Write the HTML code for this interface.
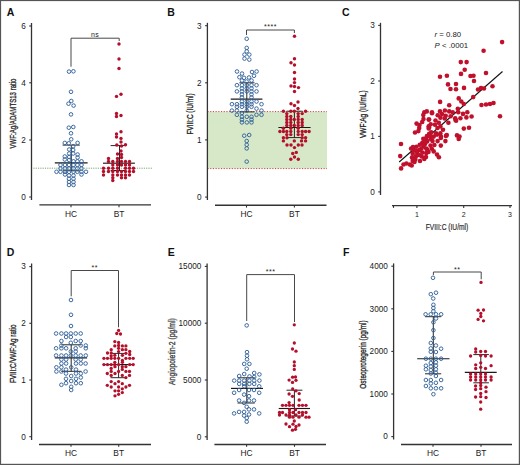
<!DOCTYPE html>
<html><head><meta charset="utf-8"><style>
html,body{margin:0;padding:0;background:#fff;}
body{width:520px;height:465px;overflow:hidden;}
svg{display:block;font-family:"Liberation Sans",sans-serif;}
</style></head><body>
<svg width="520" height="465" viewBox="0 0 520 465">
<rect x="0" y="0" width="520" height="465" fill="#fff"/>
<text x="6.80" y="15.50" font-size="10.5" text-anchor="start" font-weight="bold" fill="#111"  style="">A</text>
<line x1="31.50" y1="23.00" x2="31.50" y2="200.00" stroke="#333" stroke-width="1.3" />
<line x1="29.20" y1="26.00" x2="31.50" y2="26.00" stroke="#333" stroke-width="1.1" />
<text transform="translate(25.70,28.80)" font-size="8.2" text-anchor="end" fill="#1a1a1a">6</text>
<line x1="29.20" y1="82.80" x2="31.50" y2="82.80" stroke="#333" stroke-width="1.1" />
<text transform="translate(25.70,85.60)" font-size="8.2" text-anchor="end" fill="#1a1a1a">4</text>
<line x1="29.20" y1="140.00" x2="31.50" y2="140.00" stroke="#333" stroke-width="1.1" />
<text transform="translate(25.70,142.80)" font-size="8.2" text-anchor="end" fill="#1a1a1a">2</text>
<line x1="29.20" y1="197.00" x2="31.50" y2="197.00" stroke="#333" stroke-width="1.1" />
<text transform="translate(25.70,199.80)" font-size="8.2" text-anchor="end" fill="#1a1a1a">0</text>
<line x1="39.40" y1="204.90" x2="151.00" y2="204.90" stroke="#333" stroke-width="1.4" />
<line x1="71.00" y1="204.90" x2="71.00" y2="207.20" stroke="#333" stroke-width="1.1" />
<text x="71.00" y="217.00" font-size="8.4" text-anchor="middle" font-weight="normal" fill="#222"  style="">HC</text>
<line x1="119.00" y1="204.90" x2="119.00" y2="207.20" stroke="#333" stroke-width="1.1" />
<text x="119.00" y="217.00" font-size="8.4" text-anchor="middle" font-weight="normal" fill="#222"  style="">BT</text>
<text transform="translate(16.40,113.50) rotate(-90)" x="0" y="0" font-size="9.9" font-weight="normal" text-anchor="middle" fill="#2a2a2a" stroke="#2a2a2a" stroke-width="0.35" textLength="70" lengthAdjust="spacingAndGlyphs">VWF:Ag/ADAMTS13 ratio</text>
<polyline points="71,66.7 71,38.2 119.2,38.2 119.2,41" fill="none" stroke="#484848" stroke-width="1.0"/>
<text x="95.10" y="36.50" font-size="7" text-anchor="middle" font-weight="normal" fill="#222"  style="letter-spacing:0.5px">ns</text>
<line x1="33.40" y1="168.20" x2="152.00" y2="168.20" stroke="#6f9a6a" stroke-width="0.9" stroke-dasharray="1.2,1.1"/>
<text x="167.30" y="15.50" font-size="10.5" text-anchor="start" font-weight="bold" fill="#111"  style="">B</text>
<rect x="207.5" y="111.6" width="119.5" height="57" fill="#d6e8c8"/>
<line x1="207.50" y1="111.60" x2="327.00" y2="111.60" stroke="#c42a2a" stroke-width="0.9" stroke-dasharray="1.1,1.6"/>
<line x1="207.50" y1="168.60" x2="327.00" y2="168.60" stroke="#c42a2a" stroke-width="0.9" stroke-dasharray="1.1,1.6"/>
<line x1="207.40" y1="22.80" x2="207.40" y2="200.00" stroke="#333" stroke-width="1.3" />
<line x1="205.10" y1="25.70" x2="207.40" y2="25.70" stroke="#333" stroke-width="1.1" />
<text transform="translate(201.60,28.50)" font-size="8.2" text-anchor="end" fill="#1a1a1a">3</text>
<line x1="205.10" y1="82.80" x2="207.40" y2="82.80" stroke="#333" stroke-width="1.1" />
<text transform="translate(201.60,85.60)" font-size="8.2" text-anchor="end" fill="#1a1a1a">2</text>
<line x1="205.10" y1="139.90" x2="207.40" y2="139.90" stroke="#333" stroke-width="1.1" />
<text transform="translate(201.60,142.70)" font-size="8.2" text-anchor="end" fill="#1a1a1a">1</text>
<line x1="205.10" y1="197.10" x2="207.40" y2="197.10" stroke="#333" stroke-width="1.1" />
<text transform="translate(201.60,199.90)" font-size="8.2" text-anchor="end" fill="#1a1a1a">0</text>
<line x1="215.00" y1="205.30" x2="326.50" y2="205.30" stroke="#333" stroke-width="1.4" />
<line x1="246.50" y1="205.30" x2="246.50" y2="207.60" stroke="#333" stroke-width="1.1" />
<text x="246.50" y="217.00" font-size="8.4" text-anchor="middle" font-weight="normal" fill="#222"  style="">HC</text>
<line x1="294.40" y1="205.30" x2="294.40" y2="207.60" stroke="#333" stroke-width="1.1" />
<text x="294.40" y="217.00" font-size="8.4" text-anchor="middle" font-weight="normal" fill="#222"  style="">BT</text>
<text transform="translate(193.30,113.90) rotate(-90)" x="0" y="0" font-size="9.9" font-weight="normal" text-anchor="middle" fill="#2a2a2a" stroke="#2a2a2a" stroke-width="0.35" textLength="41.2" lengthAdjust="spacingAndGlyphs">FVIII:C (IU/ml)</text>
<polyline points="246.5,35 246.5,30 294.4,30 294.4,33" fill="none" stroke="#484848" stroke-width="1.0"/>
<text x="270.45" y="29.20" font-size="7" text-anchor="middle" font-weight="normal" fill="#222"  style="letter-spacing:0.5px">****</text>
<text x="342.00" y="15.50" font-size="10.5" text-anchor="start" font-weight="bold" fill="#111"  style="">C</text>
<line x1="380.50" y1="22.80" x2="380.50" y2="195.00" stroke="#333" stroke-width="1.3" />
<line x1="378.20" y1="25.40" x2="380.50" y2="25.40" stroke="#333" stroke-width="1.1" />
<text transform="translate(374.70,28.20)" font-size="8.2" text-anchor="end" fill="#1a1a1a">3</text>
<line x1="378.20" y1="81.00" x2="380.50" y2="81.00" stroke="#333" stroke-width="1.1" />
<text transform="translate(374.70,83.80)" font-size="8.2" text-anchor="end" fill="#1a1a1a">2</text>
<line x1="378.20" y1="136.40" x2="380.50" y2="136.40" stroke="#333" stroke-width="1.1" />
<text transform="translate(374.70,139.20)" font-size="8.2" text-anchor="end" fill="#1a1a1a">1</text>
<line x1="378.20" y1="191.90" x2="380.50" y2="191.90" stroke="#333" stroke-width="1.1" />
<text transform="translate(374.70,194.70)" font-size="8.2" text-anchor="end" fill="#1a1a1a">0</text>
<line x1="392.00" y1="205.60" x2="512.00" y2="205.60" stroke="#333" stroke-width="1.4" />
<line x1="393.50" y1="205.60" x2="393.50" y2="207.90" stroke="#333" stroke-width="1.1" />
<line x1="416.90" y1="205.60" x2="416.90" y2="207.90" stroke="#333" stroke-width="1.1" />
<text x="416.90" y="217.00" font-size="7" text-anchor="middle" font-weight="normal" fill="#222"  style="">1</text>
<line x1="463.70" y1="205.60" x2="463.70" y2="207.90" stroke="#333" stroke-width="1.1" />
<text x="463.70" y="217.00" font-size="7" text-anchor="middle" font-weight="normal" fill="#222"  style="">2</text>
<line x1="510.00" y1="205.60" x2="510.00" y2="207.90" stroke="#333" stroke-width="1.1" />
<text x="510.00" y="217.00" font-size="7" text-anchor="middle" font-weight="normal" fill="#222"  style="">3</text>
<text transform="translate(366.30,114.20) rotate(-90)" x="0" y="0" font-size="9.9" font-weight="normal" text-anchor="middle" fill="#2a2a2a" stroke="#2a2a2a" stroke-width="0.35" textLength="47.5" lengthAdjust="spacingAndGlyphs">VWF:Ag (IU/mL)</text>
<text x="447.00" y="229.80" font-size="9.3" text-anchor="middle" font-weight="normal" fill="#2a2a2a" stroke="#2a2a2a" stroke-width="0.2" textLength="42.5" lengthAdjust="spacingAndGlyphs" style="">FVIII:C (IU/ml)</text>
<text x="434.40" y="37.00" font-size="7.8" text-anchor="start" font-weight="normal" fill="#222"  style=""><tspan font-style="italic">r</tspan> = 0.80</text>
<text x="434.60" y="48.00" font-size="7.8" text-anchor="start" font-weight="normal" fill="#222"  style=""><tspan font-style="italic">P</tspan> &lt; .0001</text>
<text x="6.80" y="256.00" font-size="10.5" text-anchor="start" font-weight="bold" fill="#111"  style="">D</text>
<line x1="31.60" y1="263.50" x2="31.60" y2="440.00" stroke="#333" stroke-width="1.3" />
<line x1="29.30" y1="266.60" x2="31.60" y2="266.60" stroke="#333" stroke-width="1.1" />
<text transform="translate(25.80,269.40)" font-size="8.2" text-anchor="end" fill="#1a1a1a">3</text>
<line x1="29.30" y1="323.30" x2="31.60" y2="323.30" stroke="#333" stroke-width="1.1" />
<text transform="translate(25.80,326.10)" font-size="8.2" text-anchor="end" fill="#1a1a1a">2</text>
<line x1="29.30" y1="380.00" x2="31.60" y2="380.00" stroke="#333" stroke-width="1.1" />
<text transform="translate(25.80,382.80)" font-size="8.2" text-anchor="end" fill="#1a1a1a">1</text>
<line x1="29.30" y1="436.70" x2="31.60" y2="436.70" stroke="#333" stroke-width="1.1" />
<text transform="translate(25.80,439.50)" font-size="8.2" text-anchor="end" fill="#1a1a1a">0</text>
<line x1="39.00" y1="444.50" x2="151.00" y2="444.50" stroke="#333" stroke-width="1.4" />
<line x1="71.00" y1="444.50" x2="71.00" y2="446.80" stroke="#333" stroke-width="1.1" />
<text x="71.00" y="456.00" font-size="8.4" text-anchor="middle" font-weight="normal" fill="#222"  style="">HC</text>
<line x1="118.70" y1="444.50" x2="118.70" y2="446.80" stroke="#333" stroke-width="1.1" />
<text x="118.70" y="456.00" font-size="8.4" text-anchor="middle" font-weight="normal" fill="#222"  style="">BT</text>
<text transform="translate(16.40,353.80) rotate(-90)" x="0" y="0" font-size="9.9" font-weight="normal" text-anchor="middle" fill="#2a2a2a" stroke="#2a2a2a" stroke-width="0.35" textLength="58.6" lengthAdjust="spacingAndGlyphs">FVIII:C/VWF:Ag ratio</text>
<polyline points="71.2,296.3 71.2,270.5 118.5,270.5 118.5,327.3" fill="none" stroke="#484848" stroke-width="1.0"/>
<text x="94.85" y="269.70" font-size="7" text-anchor="middle" font-weight="normal" fill="#222"  style="letter-spacing:0.5px">**</text>
<text x="167.70" y="256.20" font-size="10.5" text-anchor="start" font-weight="bold" fill="#111"  style="">E</text>
<line x1="207.10" y1="263.50" x2="207.10" y2="440.00" stroke="#333" stroke-width="1.3" />
<line x1="204.80" y1="266.40" x2="207.10" y2="266.40" stroke="#333" stroke-width="1.1" />
<text transform="translate(201.30,269.20)" font-size="8.2" text-anchor="end" fill="#1a1a1a">15000</text>
<line x1="204.80" y1="323.20" x2="207.10" y2="323.20" stroke="#333" stroke-width="1.1" />
<text transform="translate(201.30,326.00)" font-size="8.2" text-anchor="end" fill="#1a1a1a">10000</text>
<line x1="204.80" y1="380.00" x2="207.10" y2="380.00" stroke="#333" stroke-width="1.1" />
<text transform="translate(201.30,382.80)" font-size="8.2" text-anchor="end" fill="#1a1a1a">5000</text>
<line x1="204.80" y1="436.80" x2="207.10" y2="436.80" stroke="#333" stroke-width="1.1" />
<text transform="translate(201.30,439.60)" font-size="8.2" text-anchor="end" fill="#1a1a1a">0</text>
<line x1="214.40" y1="444.50" x2="326.00" y2="444.50" stroke="#333" stroke-width="1.4" />
<line x1="246.60" y1="444.50" x2="246.60" y2="446.80" stroke="#333" stroke-width="1.1" />
<text x="246.60" y="456.00" font-size="8.4" text-anchor="middle" font-weight="normal" fill="#222"  style="">HC</text>
<line x1="294.50" y1="444.50" x2="294.50" y2="446.80" stroke="#333" stroke-width="1.1" />
<text x="294.50" y="456.00" font-size="8.4" text-anchor="middle" font-weight="normal" fill="#222"  style="">BT</text>
<text transform="translate(174.60,351.60) rotate(-90)" x="0" y="0" font-size="9.9" font-weight="normal" text-anchor="middle" fill="#444" stroke="#444" stroke-width="0.35" textLength="66.7" lengthAdjust="spacingAndGlyphs">Angiopoietin-2 (pg/ml)</text>
<polyline points="246.7,321 246.7,274.6 294.5,274.6 294.5,322" fill="none" stroke="#484848" stroke-width="1.0"/>
<text x="270.60" y="273.60" font-size="7" text-anchor="middle" font-weight="normal" fill="#222"  style="letter-spacing:0.5px">***</text>
<text x="342.90" y="256.40" font-size="10.5" text-anchor="start" font-weight="bold" fill="#111"  style="">F</text>
<line x1="393.60" y1="263.40" x2="393.60" y2="439.50" stroke="#333" stroke-width="1.3" />
<line x1="391.30" y1="266.20" x2="393.60" y2="266.20" stroke="#333" stroke-width="1.1" />
<text transform="translate(387.80,269.00)" font-size="8.2" text-anchor="end" fill="#1a1a1a">4000</text>
<line x1="391.30" y1="308.80" x2="393.60" y2="308.80" stroke="#333" stroke-width="1.1" />
<text transform="translate(387.80,311.60)" font-size="8.2" text-anchor="end" fill="#1a1a1a">3000</text>
<line x1="391.30" y1="351.40" x2="393.60" y2="351.40" stroke="#333" stroke-width="1.1" />
<text transform="translate(387.80,354.20)" font-size="8.2" text-anchor="end" fill="#1a1a1a">2000</text>
<line x1="391.30" y1="394.00" x2="393.60" y2="394.00" stroke="#333" stroke-width="1.1" />
<text transform="translate(387.80,396.80)" font-size="8.2" text-anchor="end" fill="#1a1a1a">1000</text>
<line x1="391.30" y1="436.60" x2="393.60" y2="436.60" stroke="#333" stroke-width="1.1" />
<text transform="translate(387.80,439.40)" font-size="8.2" text-anchor="end" fill="#1a1a1a">0</text>
<line x1="401.00" y1="444.50" x2="512.00" y2="444.50" stroke="#333" stroke-width="1.4" />
<line x1="433.00" y1="444.50" x2="433.00" y2="446.80" stroke="#333" stroke-width="1.1" />
<text x="433.00" y="456.00" font-size="8.4" text-anchor="middle" font-weight="normal" fill="#222"  style="">HC</text>
<line x1="481.00" y1="444.50" x2="481.00" y2="446.80" stroke="#333" stroke-width="1.1" />
<text x="481.00" y="456.00" font-size="8.4" text-anchor="middle" font-weight="normal" fill="#222"  style="">BT</text>
<text transform="translate(365.60,354.50) rotate(-90)" x="0" y="0" font-size="9.9" font-weight="normal" text-anchor="middle" fill="#2a2a2a" stroke="#2a2a2a" stroke-width="0.35" textLength="68.4" lengthAdjust="spacingAndGlyphs">Osteoprotegerin (pg/ml)</text>
<polyline points="433.4,275 433.4,272 481.2,272 481.2,279.3" fill="none" stroke="#484848" stroke-width="1.0"/>
<text x="457.30" y="271.50" font-size="7" text-anchor="middle" font-weight="normal" fill="#222"  style="letter-spacing:0.5px">**</text>
<line x1="71.30" y1="145.10" x2="71.30" y2="170.80" stroke="#1a1a1a" stroke-width="0.95" />
<line x1="54.80" y1="162.90" x2="87.60" y2="162.90" stroke="#1a1a1a" stroke-width="1.15" />
<line x1="62.60" y1="145.10" x2="79.80" y2="145.10" stroke="#1a1a1a" stroke-width="0.95" />
<line x1="62.60" y1="170.80" x2="79.80" y2="170.80" stroke="#1a1a1a" stroke-width="0.95" />
<line x1="119.50" y1="145.60" x2="119.50" y2="170.50" stroke="#1a1a1a" stroke-width="0.95" />
<line x1="103.00" y1="163.20" x2="134.90" y2="163.20" stroke="#1a1a1a" stroke-width="1.15" />
<line x1="110.60" y1="145.60" x2="125.80" y2="145.60" stroke="#1a1a1a" stroke-width="0.95" />
<line x1="110.60" y1="170.50" x2="125.80" y2="170.50" stroke="#1a1a1a" stroke-width="0.95" />
<line x1="246.80" y1="82.80" x2="246.80" y2="111.90" stroke="#1a1a1a" stroke-width="0.95" />
<line x1="230.70" y1="99.10" x2="262.40" y2="99.10" stroke="#1a1a1a" stroke-width="1.15" />
<line x1="239.40" y1="82.80" x2="254.50" y2="82.80" stroke="#1a1a1a" stroke-width="0.95" />
<line x1="239.40" y1="111.90" x2="254.50" y2="111.90" stroke="#1a1a1a" stroke-width="0.95" />
<line x1="294.40" y1="111.20" x2="294.40" y2="137.60" stroke="#1a1a1a" stroke-width="0.95" />
<line x1="278.40" y1="127.50" x2="310.60" y2="127.50" stroke="#1a1a1a" stroke-width="1.15" />
<line x1="286.50" y1="111.20" x2="302.50" y2="111.20" stroke="#1a1a1a" stroke-width="0.95" />
<line x1="286.50" y1="137.60" x2="302.50" y2="137.60" stroke="#1a1a1a" stroke-width="0.95" />
<line x1="71.20" y1="344.80" x2="71.20" y2="371.30" stroke="#1a1a1a" stroke-width="0.95" />
<line x1="54.80" y1="357.80" x2="87.10" y2="357.80" stroke="#1a1a1a" stroke-width="1.15" />
<line x1="61.20" y1="344.80" x2="81.50" y2="344.80" stroke="#1a1a1a" stroke-width="0.95" />
<line x1="61.20" y1="371.30" x2="81.50" y2="371.30" stroke="#1a1a1a" stroke-width="0.95" />
<line x1="118.60" y1="353.40" x2="118.60" y2="377.70" stroke="#1a1a1a" stroke-width="0.95" />
<line x1="103.20" y1="364.60" x2="134.00" y2="364.60" stroke="#1a1a1a" stroke-width="1.15" />
<line x1="110.50" y1="353.40" x2="126.90" y2="353.40" stroke="#1a1a1a" stroke-width="0.95" />
<line x1="110.50" y1="377.70" x2="126.90" y2="377.70" stroke="#1a1a1a" stroke-width="0.95" />
<line x1="246.80" y1="377.80" x2="246.80" y2="403.00" stroke="#1a1a1a" stroke-width="0.95" />
<line x1="231.00" y1="388.40" x2="263.00" y2="388.40" stroke="#1a1a1a" stroke-width="1.15" />
<line x1="237.50" y1="377.80" x2="254.80" y2="377.80" stroke="#1a1a1a" stroke-width="0.95" />
<line x1="237.50" y1="403.00" x2="254.80" y2="403.00" stroke="#1a1a1a" stroke-width="0.95" />
<line x1="294.40" y1="390.20" x2="294.40" y2="416.00" stroke="#1a1a1a" stroke-width="0.95" />
<line x1="278.70" y1="408.50" x2="310.00" y2="408.50" stroke="#1a1a1a" stroke-width="1.15" />
<line x1="286.50" y1="390.20" x2="302.40" y2="390.20" stroke="#1a1a1a" stroke-width="0.95" />
<line x1="286.50" y1="416.00" x2="302.40" y2="416.00" stroke="#1a1a1a" stroke-width="0.95" />
<line x1="433.30" y1="316.70" x2="433.30" y2="373.80" stroke="#1a1a1a" stroke-width="0.95" />
<line x1="417.20" y1="358.70" x2="449.50" y2="358.70" stroke="#1a1a1a" stroke-width="1.15" />
<line x1="425.00" y1="316.70" x2="441.20" y2="316.70" stroke="#1a1a1a" stroke-width="0.95" />
<line x1="425.00" y1="373.80" x2="441.20" y2="373.80" stroke="#1a1a1a" stroke-width="0.95" />
<line x1="480.80" y1="354.60" x2="480.80" y2="382.80" stroke="#1a1a1a" stroke-width="0.95" />
<line x1="464.80" y1="372.30" x2="496.70" y2="372.30" stroke="#1a1a1a" stroke-width="1.15" />
<line x1="473.30" y1="354.60" x2="488.90" y2="354.60" stroke="#1a1a1a" stroke-width="0.95" />
<line x1="473.30" y1="382.80" x2="488.90" y2="382.80" stroke="#1a1a1a" stroke-width="0.95" />
<circle cx="69.00" cy="71.60" r="1.8" fill="none" stroke="#34639a" stroke-width="0.95"/>
<circle cx="73.40" cy="71.30" r="1.8" fill="none" stroke="#34639a" stroke-width="0.95"/>
<circle cx="71.00" cy="91.80" r="1.8" fill="none" stroke="#34639a" stroke-width="0.95"/>
<circle cx="71.30" cy="101.00" r="1.8" fill="none" stroke="#34639a" stroke-width="0.95"/>
<circle cx="68.50" cy="103.70" r="1.8" fill="none" stroke="#34639a" stroke-width="0.95"/>
<circle cx="73.60" cy="105.60" r="1.8" fill="none" stroke="#34639a" stroke-width="0.95"/>
<circle cx="71.00" cy="114.40" r="1.8" fill="none" stroke="#34639a" stroke-width="0.95"/>
<circle cx="68.80" cy="127.70" r="1.8" fill="none" stroke="#34639a" stroke-width="0.95"/>
<circle cx="73.30" cy="127.00" r="1.8" fill="none" stroke="#34639a" stroke-width="0.95"/>
<circle cx="71.00" cy="133.30" r="1.8" fill="none" stroke="#34639a" stroke-width="0.95"/>
<circle cx="71.20" cy="139.30" r="1.8" fill="none" stroke="#34639a" stroke-width="0.95"/>
<circle cx="64.80" cy="142.90" r="1.8" fill="none" stroke="#34639a" stroke-width="0.95"/>
<circle cx="68.80" cy="143.30" r="1.8" fill="none" stroke="#34639a" stroke-width="0.95"/>
<circle cx="77.60" cy="142.90" r="1.8" fill="none" stroke="#34639a" stroke-width="0.95"/>
<circle cx="73.20" cy="146.20" r="1.8" fill="none" stroke="#34639a" stroke-width="0.95"/>
<circle cx="69.20" cy="149.50" r="1.8" fill="none" stroke="#34639a" stroke-width="0.95"/>
<circle cx="73.20" cy="150.00" r="1.8" fill="none" stroke="#34639a" stroke-width="0.95"/>
<circle cx="69.20" cy="153.50" r="1.8" fill="none" stroke="#34639a" stroke-width="0.95"/>
<circle cx="73.20" cy="153.50" r="1.8" fill="none" stroke="#34639a" stroke-width="0.95"/>
<circle cx="77.60" cy="154.50" r="1.8" fill="none" stroke="#34639a" stroke-width="0.95"/>
<circle cx="64.80" cy="156.50" r="1.8" fill="none" stroke="#34639a" stroke-width="0.95"/>
<circle cx="69.20" cy="157.00" r="1.8" fill="none" stroke="#34639a" stroke-width="0.95"/>
<circle cx="77.60" cy="157.50" r="1.8" fill="none" stroke="#34639a" stroke-width="0.95"/>
<circle cx="64.80" cy="159.50" r="1.8" fill="none" stroke="#34639a" stroke-width="0.95"/>
<circle cx="69.20" cy="160.00" r="1.8" fill="none" stroke="#34639a" stroke-width="0.95"/>
<circle cx="73.50" cy="161.30" r="1.8" fill="none" stroke="#34639a" stroke-width="0.95"/>
<circle cx="77.40" cy="161.30" r="1.8" fill="none" stroke="#34639a" stroke-width="0.95"/>
<circle cx="81.50" cy="161.30" r="1.8" fill="none" stroke="#34639a" stroke-width="0.95"/>
<circle cx="60.50" cy="165.00" r="1.8" fill="none" stroke="#34639a" stroke-width="0.95"/>
<circle cx="65.00" cy="165.00" r="1.8" fill="none" stroke="#34639a" stroke-width="0.95"/>
<circle cx="69.00" cy="165.00" r="1.8" fill="none" stroke="#34639a" stroke-width="0.95"/>
<circle cx="73.50" cy="165.00" r="1.8" fill="none" stroke="#34639a" stroke-width="0.95"/>
<circle cx="77.40" cy="165.00" r="1.8" fill="none" stroke="#34639a" stroke-width="0.95"/>
<circle cx="81.50" cy="165.00" r="1.8" fill="none" stroke="#34639a" stroke-width="0.95"/>
<circle cx="60.50" cy="168.50" r="1.8" fill="none" stroke="#34639a" stroke-width="0.95"/>
<circle cx="65.00" cy="168.50" r="1.8" fill="none" stroke="#34639a" stroke-width="0.95"/>
<circle cx="69.00" cy="168.50" r="1.8" fill="none" stroke="#34639a" stroke-width="0.95"/>
<circle cx="73.50" cy="168.50" r="1.8" fill="none" stroke="#34639a" stroke-width="0.95"/>
<circle cx="77.40" cy="168.50" r="1.8" fill="none" stroke="#34639a" stroke-width="0.95"/>
<circle cx="81.50" cy="168.50" r="1.8" fill="none" stroke="#34639a" stroke-width="0.95"/>
<circle cx="56.50" cy="171.80" r="1.8" fill="none" stroke="#34639a" stroke-width="0.95"/>
<circle cx="60.50" cy="171.80" r="1.8" fill="none" stroke="#34639a" stroke-width="0.95"/>
<circle cx="65.00" cy="171.80" r="1.8" fill="none" stroke="#34639a" stroke-width="0.95"/>
<circle cx="69.00" cy="171.80" r="1.8" fill="none" stroke="#34639a" stroke-width="0.95"/>
<circle cx="73.50" cy="171.80" r="1.8" fill="none" stroke="#34639a" stroke-width="0.95"/>
<circle cx="77.40" cy="171.80" r="1.8" fill="none" stroke="#34639a" stroke-width="0.95"/>
<circle cx="81.50" cy="171.80" r="1.8" fill="none" stroke="#34639a" stroke-width="0.95"/>
<circle cx="86.00" cy="171.80" r="1.8" fill="none" stroke="#34639a" stroke-width="0.95"/>
<circle cx="65.00" cy="174.50" r="1.8" fill="none" stroke="#34639a" stroke-width="0.95"/>
<circle cx="81.50" cy="174.50" r="1.8" fill="none" stroke="#34639a" stroke-width="0.95"/>
<circle cx="69.00" cy="175.50" r="1.8" fill="none" stroke="#34639a" stroke-width="0.95"/>
<circle cx="73.50" cy="175.50" r="1.8" fill="none" stroke="#34639a" stroke-width="0.95"/>
<circle cx="69.00" cy="178.80" r="1.8" fill="none" stroke="#34639a" stroke-width="0.95"/>
<circle cx="73.50" cy="178.80" r="1.8" fill="none" stroke="#34639a" stroke-width="0.95"/>
<circle cx="69.00" cy="182.00" r="1.8" fill="none" stroke="#34639a" stroke-width="0.95"/>
<circle cx="73.50" cy="182.00" r="1.8" fill="none" stroke="#34639a" stroke-width="0.95"/>
<circle cx="69.00" cy="185.00" r="1.8" fill="none" stroke="#34639a" stroke-width="0.95"/>
<circle cx="73.50" cy="185.00" r="1.8" fill="none" stroke="#34639a" stroke-width="0.95"/>
<circle cx="246.70" cy="38.80" r="1.8" fill="none" stroke="#34639a" stroke-width="0.95"/>
<circle cx="246.70" cy="47.90" r="1.8" fill="none" stroke="#34639a" stroke-width="0.95"/>
<circle cx="246.70" cy="51.30" r="1.8" fill="none" stroke="#34639a" stroke-width="0.95"/>
<circle cx="244.50" cy="54.60" r="1.8" fill="none" stroke="#34639a" stroke-width="0.95"/>
<circle cx="249.30" cy="54.60" r="1.8" fill="none" stroke="#34639a" stroke-width="0.95"/>
<circle cx="244.50" cy="58.60" r="1.8" fill="none" stroke="#34639a" stroke-width="0.95"/>
<circle cx="249.30" cy="59.60" r="1.8" fill="none" stroke="#34639a" stroke-width="0.95"/>
<circle cx="237.00" cy="71.50" r="1.8" fill="none" stroke="#34639a" stroke-width="0.95"/>
<circle cx="242.00" cy="73.60" r="1.8" fill="none" stroke="#34639a" stroke-width="0.95"/>
<circle cx="252.00" cy="72.00" r="1.8" fill="none" stroke="#34639a" stroke-width="0.95"/>
<circle cx="256.60" cy="71.50" r="1.8" fill="none" stroke="#34639a" stroke-width="0.95"/>
<circle cx="239.40" cy="77.20" r="1.8" fill="none" stroke="#34639a" stroke-width="0.95"/>
<circle cx="244.00" cy="77.80" r="1.8" fill="none" stroke="#34639a" stroke-width="0.95"/>
<circle cx="249.00" cy="77.50" r="1.8" fill="none" stroke="#34639a" stroke-width="0.95"/>
<circle cx="254.00" cy="75.80" r="1.8" fill="none" stroke="#34639a" stroke-width="0.95"/>
<circle cx="242.00" cy="80.50" r="1.8" fill="none" stroke="#34639a" stroke-width="0.95"/>
<circle cx="246.60" cy="81.50" r="1.8" fill="none" stroke="#34639a" stroke-width="0.95"/>
<circle cx="251.50" cy="80.50" r="1.8" fill="none" stroke="#34639a" stroke-width="0.95"/>
<circle cx="236.90" cy="85.20" r="1.8" fill="none" stroke="#34639a" stroke-width="0.95"/>
<circle cx="241.90" cy="85.20" r="1.8" fill="none" stroke="#34639a" stroke-width="0.95"/>
<circle cx="246.80" cy="85.20" r="1.8" fill="none" stroke="#34639a" stroke-width="0.95"/>
<circle cx="251.50" cy="85.20" r="1.8" fill="none" stroke="#34639a" stroke-width="0.95"/>
<circle cx="256.50" cy="85.20" r="1.8" fill="none" stroke="#34639a" stroke-width="0.95"/>
<circle cx="241.90" cy="88.40" r="1.8" fill="none" stroke="#34639a" stroke-width="0.95"/>
<circle cx="246.80" cy="88.40" r="1.8" fill="none" stroke="#34639a" stroke-width="0.95"/>
<circle cx="251.50" cy="88.40" r="1.8" fill="none" stroke="#34639a" stroke-width="0.95"/>
<circle cx="236.90" cy="91.40" r="1.8" fill="none" stroke="#34639a" stroke-width="0.95"/>
<circle cx="241.90" cy="91.40" r="1.8" fill="none" stroke="#34639a" stroke-width="0.95"/>
<circle cx="246.80" cy="91.40" r="1.8" fill="none" stroke="#34639a" stroke-width="0.95"/>
<circle cx="251.50" cy="91.40" r="1.8" fill="none" stroke="#34639a" stroke-width="0.95"/>
<circle cx="256.50" cy="91.40" r="1.8" fill="none" stroke="#34639a" stroke-width="0.95"/>
<circle cx="241.90" cy="94.40" r="1.8" fill="none" stroke="#34639a" stroke-width="0.95"/>
<circle cx="251.50" cy="94.40" r="1.8" fill="none" stroke="#34639a" stroke-width="0.95"/>
<circle cx="241.90" cy="97.40" r="1.8" fill="none" stroke="#34639a" stroke-width="0.95"/>
<circle cx="251.50" cy="97.40" r="1.8" fill="none" stroke="#34639a" stroke-width="0.95"/>
<circle cx="241.90" cy="101.50" r="1.8" fill="none" stroke="#34639a" stroke-width="0.95"/>
<circle cx="246.80" cy="101.50" r="1.8" fill="none" stroke="#34639a" stroke-width="0.95"/>
<circle cx="251.50" cy="101.50" r="1.8" fill="none" stroke="#34639a" stroke-width="0.95"/>
<circle cx="256.50" cy="101.50" r="1.8" fill="none" stroke="#34639a" stroke-width="0.95"/>
<circle cx="231.90" cy="104.20" r="1.8" fill="none" stroke="#34639a" stroke-width="0.95"/>
<circle cx="236.90" cy="104.20" r="1.8" fill="none" stroke="#34639a" stroke-width="0.95"/>
<circle cx="241.90" cy="104.20" r="1.8" fill="none" stroke="#34639a" stroke-width="0.95"/>
<circle cx="246.80" cy="104.20" r="1.8" fill="none" stroke="#34639a" stroke-width="0.95"/>
<circle cx="251.50" cy="104.20" r="1.8" fill="none" stroke="#34639a" stroke-width="0.95"/>
<circle cx="261.50" cy="104.20" r="1.8" fill="none" stroke="#34639a" stroke-width="0.95"/>
<circle cx="236.90" cy="106.80" r="1.8" fill="none" stroke="#34639a" stroke-width="0.95"/>
<circle cx="241.90" cy="106.80" r="1.8" fill="none" stroke="#34639a" stroke-width="0.95"/>
<circle cx="246.80" cy="106.80" r="1.8" fill="none" stroke="#34639a" stroke-width="0.95"/>
<circle cx="251.50" cy="106.80" r="1.8" fill="none" stroke="#34639a" stroke-width="0.95"/>
<circle cx="256.50" cy="108.60" r="1.8" fill="none" stroke="#34639a" stroke-width="0.95"/>
<circle cx="231.90" cy="110.60" r="1.8" fill="none" stroke="#34639a" stroke-width="0.95"/>
<circle cx="236.90" cy="110.60" r="1.8" fill="none" stroke="#34639a" stroke-width="0.95"/>
<circle cx="246.80" cy="110.60" r="1.8" fill="none" stroke="#34639a" stroke-width="0.95"/>
<circle cx="261.50" cy="110.60" r="1.8" fill="none" stroke="#34639a" stroke-width="0.95"/>
<circle cx="241.90" cy="113.00" r="1.8" fill="none" stroke="#34639a" stroke-width="0.95"/>
<circle cx="236.90" cy="114.80" r="1.8" fill="none" stroke="#34639a" stroke-width="0.95"/>
<circle cx="256.50" cy="114.80" r="1.8" fill="none" stroke="#34639a" stroke-width="0.95"/>
<circle cx="261.50" cy="114.80" r="1.8" fill="none" stroke="#34639a" stroke-width="0.95"/>
<circle cx="241.90" cy="116.80" r="1.8" fill="none" stroke="#34639a" stroke-width="0.95"/>
<circle cx="246.80" cy="116.80" r="1.8" fill="none" stroke="#34639a" stroke-width="0.95"/>
<circle cx="251.50" cy="116.80" r="1.8" fill="none" stroke="#34639a" stroke-width="0.95"/>
<circle cx="241.90" cy="119.60" r="1.8" fill="none" stroke="#34639a" stroke-width="0.95"/>
<circle cx="251.50" cy="119.60" r="1.8" fill="none" stroke="#34639a" stroke-width="0.95"/>
<circle cx="241.90" cy="122.40" r="1.8" fill="none" stroke="#34639a" stroke-width="0.95"/>
<circle cx="246.80" cy="122.40" r="1.8" fill="none" stroke="#34639a" stroke-width="0.95"/>
<circle cx="251.50" cy="122.40" r="1.8" fill="none" stroke="#34639a" stroke-width="0.95"/>
<circle cx="244.20" cy="135.70" r="1.8" fill="none" stroke="#34639a" stroke-width="0.95"/>
<circle cx="249.20" cy="135.00" r="1.8" fill="none" stroke="#34639a" stroke-width="0.95"/>
<circle cx="246.70" cy="141.00" r="1.8" fill="none" stroke="#34639a" stroke-width="0.95"/>
<circle cx="246.70" cy="144.80" r="1.8" fill="none" stroke="#34639a" stroke-width="0.95"/>
<circle cx="246.70" cy="148.40" r="1.8" fill="none" stroke="#34639a" stroke-width="0.95"/>
<circle cx="246.70" cy="161.60" r="1.8" fill="none" stroke="#34639a" stroke-width="0.95"/>
<circle cx="71.00" cy="300.00" r="1.8" fill="none" stroke="#34639a" stroke-width="0.95"/>
<circle cx="71.00" cy="314.80" r="1.8" fill="none" stroke="#34639a" stroke-width="0.95"/>
<circle cx="71.00" cy="326.00" r="1.8" fill="none" stroke="#34639a" stroke-width="0.95"/>
<circle cx="56.10" cy="333.50" r="1.8" fill="none" stroke="#34639a" stroke-width="0.95"/>
<circle cx="61.40" cy="333.50" r="1.8" fill="none" stroke="#34639a" stroke-width="0.95"/>
<circle cx="66.10" cy="333.50" r="1.8" fill="none" stroke="#34639a" stroke-width="0.95"/>
<circle cx="70.80" cy="333.50" r="1.8" fill="none" stroke="#34639a" stroke-width="0.95"/>
<circle cx="75.70" cy="333.50" r="1.8" fill="none" stroke="#34639a" stroke-width="0.95"/>
<circle cx="80.70" cy="333.50" r="1.8" fill="none" stroke="#34639a" stroke-width="0.95"/>
<circle cx="66.10" cy="337.00" r="1.8" fill="none" stroke="#34639a" stroke-width="0.95"/>
<circle cx="70.80" cy="337.00" r="1.8" fill="none" stroke="#34639a" stroke-width="0.95"/>
<circle cx="61.40" cy="341.00" r="1.8" fill="none" stroke="#34639a" stroke-width="0.95"/>
<circle cx="75.70" cy="341.00" r="1.8" fill="none" stroke="#34639a" stroke-width="0.95"/>
<circle cx="80.70" cy="341.00" r="1.8" fill="none" stroke="#34639a" stroke-width="0.95"/>
<circle cx="70.80" cy="342.80" r="1.8" fill="none" stroke="#34639a" stroke-width="0.95"/>
<circle cx="61.40" cy="345.50" r="1.8" fill="none" stroke="#34639a" stroke-width="0.95"/>
<circle cx="80.70" cy="345.50" r="1.8" fill="none" stroke="#34639a" stroke-width="0.95"/>
<circle cx="85.80" cy="345.50" r="1.8" fill="none" stroke="#34639a" stroke-width="0.95"/>
<circle cx="56.10" cy="348.30" r="1.8" fill="none" stroke="#34639a" stroke-width="0.95"/>
<circle cx="61.40" cy="348.30" r="1.8" fill="none" stroke="#34639a" stroke-width="0.95"/>
<circle cx="66.10" cy="348.30" r="1.8" fill="none" stroke="#34639a" stroke-width="0.95"/>
<circle cx="75.70" cy="348.30" r="1.8" fill="none" stroke="#34639a" stroke-width="0.95"/>
<circle cx="85.80" cy="348.30" r="1.8" fill="none" stroke="#34639a" stroke-width="0.95"/>
<circle cx="70.80" cy="351.50" r="1.8" fill="none" stroke="#34639a" stroke-width="0.95"/>
<circle cx="75.70" cy="351.50" r="1.8" fill="none" stroke="#34639a" stroke-width="0.95"/>
<circle cx="56.10" cy="355.50" r="1.8" fill="none" stroke="#34639a" stroke-width="0.95"/>
<circle cx="61.40" cy="355.50" r="1.8" fill="none" stroke="#34639a" stroke-width="0.95"/>
<circle cx="66.10" cy="355.50" r="1.8" fill="none" stroke="#34639a" stroke-width="0.95"/>
<circle cx="70.80" cy="355.50" r="1.8" fill="none" stroke="#34639a" stroke-width="0.95"/>
<circle cx="75.70" cy="355.50" r="1.8" fill="none" stroke="#34639a" stroke-width="0.95"/>
<circle cx="80.70" cy="355.50" r="1.8" fill="none" stroke="#34639a" stroke-width="0.95"/>
<circle cx="85.80" cy="355.50" r="1.8" fill="none" stroke="#34639a" stroke-width="0.95"/>
<circle cx="61.40" cy="359.50" r="1.8" fill="none" stroke="#34639a" stroke-width="0.95"/>
<circle cx="66.10" cy="359.50" r="1.8" fill="none" stroke="#34639a" stroke-width="0.95"/>
<circle cx="75.70" cy="359.50" r="1.8" fill="none" stroke="#34639a" stroke-width="0.95"/>
<circle cx="80.70" cy="359.50" r="1.8" fill="none" stroke="#34639a" stroke-width="0.95"/>
<circle cx="61.40" cy="363.50" r="1.8" fill="none" stroke="#34639a" stroke-width="0.95"/>
<circle cx="66.10" cy="363.50" r="1.8" fill="none" stroke="#34639a" stroke-width="0.95"/>
<circle cx="76.00" cy="363.50" r="1.8" fill="none" stroke="#34639a" stroke-width="0.95"/>
<circle cx="80.80" cy="363.50" r="1.8" fill="none" stroke="#34639a" stroke-width="0.95"/>
<circle cx="85.60" cy="363.50" r="1.8" fill="none" stroke="#34639a" stroke-width="0.95"/>
<circle cx="56.40" cy="367.30" r="1.8" fill="none" stroke="#34639a" stroke-width="0.95"/>
<circle cx="61.40" cy="367.30" r="1.8" fill="none" stroke="#34639a" stroke-width="0.95"/>
<circle cx="71.20" cy="367.30" r="1.8" fill="none" stroke="#34639a" stroke-width="0.95"/>
<circle cx="66.00" cy="369.60" r="1.8" fill="none" stroke="#34639a" stroke-width="0.95"/>
<circle cx="76.00" cy="369.60" r="1.8" fill="none" stroke="#34639a" stroke-width="0.95"/>
<circle cx="56.40" cy="371.50" r="1.8" fill="none" stroke="#34639a" stroke-width="0.95"/>
<circle cx="61.40" cy="371.50" r="1.8" fill="none" stroke="#34639a" stroke-width="0.95"/>
<circle cx="85.60" cy="371.50" r="1.8" fill="none" stroke="#34639a" stroke-width="0.95"/>
<circle cx="66.00" cy="373.50" r="1.8" fill="none" stroke="#34639a" stroke-width="0.95"/>
<circle cx="76.00" cy="373.50" r="1.8" fill="none" stroke="#34639a" stroke-width="0.95"/>
<circle cx="80.80" cy="373.50" r="1.8" fill="none" stroke="#34639a" stroke-width="0.95"/>
<circle cx="71.20" cy="376.00" r="1.8" fill="none" stroke="#34639a" stroke-width="0.95"/>
<circle cx="80.80" cy="377.50" r="1.8" fill="none" stroke="#34639a" stroke-width="0.95"/>
<circle cx="66.00" cy="378.80" r="1.8" fill="none" stroke="#34639a" stroke-width="0.95"/>
<circle cx="76.00" cy="378.80" r="1.8" fill="none" stroke="#34639a" stroke-width="0.95"/>
<circle cx="71.20" cy="381.00" r="1.8" fill="none" stroke="#34639a" stroke-width="0.95"/>
<circle cx="66.00" cy="383.20" r="1.8" fill="none" stroke="#34639a" stroke-width="0.95"/>
<circle cx="76.00" cy="383.20" r="1.8" fill="none" stroke="#34639a" stroke-width="0.95"/>
<circle cx="80.80" cy="383.20" r="1.8" fill="none" stroke="#34639a" stroke-width="0.95"/>
<circle cx="61.40" cy="384.80" r="1.8" fill="none" stroke="#34639a" stroke-width="0.95"/>
<circle cx="71.20" cy="386.80" r="1.8" fill="none" stroke="#34639a" stroke-width="0.95"/>
<circle cx="71.20" cy="390.00" r="1.8" fill="none" stroke="#34639a" stroke-width="0.95"/>
<circle cx="246.70" cy="325.40" r="1.8" fill="none" stroke="#34639a" stroke-width="0.95"/>
<circle cx="247.00" cy="352.10" r="1.8" fill="none" stroke="#34639a" stroke-width="0.95"/>
<circle cx="247.00" cy="355.70" r="1.8" fill="none" stroke="#34639a" stroke-width="0.95"/>
<circle cx="247.00" cy="359.30" r="1.8" fill="none" stroke="#34639a" stroke-width="0.95"/>
<circle cx="244.20" cy="363.90" r="1.8" fill="none" stroke="#34639a" stroke-width="0.95"/>
<circle cx="249.40" cy="363.90" r="1.8" fill="none" stroke="#34639a" stroke-width="0.95"/>
<circle cx="246.70" cy="368.70" r="1.8" fill="none" stroke="#34639a" stroke-width="0.95"/>
<circle cx="244.20" cy="374.00" r="1.8" fill="none" stroke="#34639a" stroke-width="0.95"/>
<circle cx="254.20" cy="373.00" r="1.8" fill="none" stroke="#34639a" stroke-width="0.95"/>
<circle cx="259.40" cy="374.40" r="1.8" fill="none" stroke="#34639a" stroke-width="0.95"/>
<circle cx="239.20" cy="376.00" r="1.8" fill="none" stroke="#34639a" stroke-width="0.95"/>
<circle cx="249.50" cy="376.40" r="1.8" fill="none" stroke="#34639a" stroke-width="0.95"/>
<circle cx="254.20" cy="377.00" r="1.8" fill="none" stroke="#34639a" stroke-width="0.95"/>
<circle cx="234.20" cy="380.60" r="1.8" fill="none" stroke="#34639a" stroke-width="0.95"/>
<circle cx="239.20" cy="380.60" r="1.8" fill="none" stroke="#34639a" stroke-width="0.95"/>
<circle cx="244.20" cy="380.60" r="1.8" fill="none" stroke="#34639a" stroke-width="0.95"/>
<circle cx="249.40" cy="380.60" r="1.8" fill="none" stroke="#34639a" stroke-width="0.95"/>
<circle cx="254.20" cy="380.60" r="1.8" fill="none" stroke="#34639a" stroke-width="0.95"/>
<circle cx="259.40" cy="380.60" r="1.8" fill="none" stroke="#34639a" stroke-width="0.95"/>
<circle cx="239.20" cy="383.90" r="1.8" fill="none" stroke="#34639a" stroke-width="0.95"/>
<circle cx="244.20" cy="383.90" r="1.8" fill="none" stroke="#34639a" stroke-width="0.95"/>
<circle cx="249.40" cy="383.90" r="1.8" fill="none" stroke="#34639a" stroke-width="0.95"/>
<circle cx="254.20" cy="383.90" r="1.8" fill="none" stroke="#34639a" stroke-width="0.95"/>
<circle cx="244.20" cy="386.30" r="1.8" fill="none" stroke="#34639a" stroke-width="0.95"/>
<circle cx="259.20" cy="386.30" r="1.8" fill="none" stroke="#34639a" stroke-width="0.95"/>
<circle cx="239.10" cy="390.00" r="1.8" fill="none" stroke="#34639a" stroke-width="0.95"/>
<circle cx="249.00" cy="390.00" r="1.8" fill="none" stroke="#34639a" stroke-width="0.95"/>
<circle cx="254.00" cy="390.00" r="1.8" fill="none" stroke="#34639a" stroke-width="0.95"/>
<circle cx="234.10" cy="392.80" r="1.8" fill="none" stroke="#34639a" stroke-width="0.95"/>
<circle cx="259.20" cy="392.80" r="1.8" fill="none" stroke="#34639a" stroke-width="0.95"/>
<circle cx="244.10" cy="394.60" r="1.8" fill="none" stroke="#34639a" stroke-width="0.95"/>
<circle cx="249.00" cy="396.20" r="1.8" fill="none" stroke="#34639a" stroke-width="0.95"/>
<circle cx="239.10" cy="400.50" r="1.8" fill="none" stroke="#34639a" stroke-width="0.95"/>
<circle cx="249.00" cy="400.50" r="1.8" fill="none" stroke="#34639a" stroke-width="0.95"/>
<circle cx="254.00" cy="400.50" r="1.8" fill="none" stroke="#34639a" stroke-width="0.95"/>
<circle cx="244.10" cy="402.90" r="1.8" fill="none" stroke="#34639a" stroke-width="0.95"/>
<circle cx="246.70" cy="406.80" r="1.8" fill="none" stroke="#34639a" stroke-width="0.95"/>
<circle cx="249.00" cy="409.40" r="1.8" fill="none" stroke="#34639a" stroke-width="0.95"/>
<circle cx="254.00" cy="409.40" r="1.8" fill="none" stroke="#34639a" stroke-width="0.95"/>
<circle cx="239.10" cy="411.90" r="1.8" fill="none" stroke="#34639a" stroke-width="0.95"/>
<circle cx="244.10" cy="411.90" r="1.8" fill="none" stroke="#34639a" stroke-width="0.95"/>
<circle cx="234.10" cy="413.40" r="1.8" fill="none" stroke="#34639a" stroke-width="0.95"/>
<circle cx="259.20" cy="413.40" r="1.8" fill="none" stroke="#34639a" stroke-width="0.95"/>
<circle cx="249.00" cy="414.50" r="1.8" fill="none" stroke="#34639a" stroke-width="0.95"/>
<circle cx="244.10" cy="415.60" r="1.8" fill="none" stroke="#34639a" stroke-width="0.95"/>
<circle cx="246.70" cy="418.00" r="1.8" fill="none" stroke="#34639a" stroke-width="0.95"/>
<circle cx="246.70" cy="421.70" r="1.8" fill="none" stroke="#34639a" stroke-width="0.95"/>
<circle cx="433.00" cy="277.80" r="1.8" fill="none" stroke="#34639a" stroke-width="0.95"/>
<circle cx="430.80" cy="294.20" r="1.8" fill="none" stroke="#34639a" stroke-width="0.95"/>
<circle cx="436.00" cy="292.70" r="1.8" fill="none" stroke="#34639a" stroke-width="0.95"/>
<circle cx="433.20" cy="298.50" r="1.8" fill="none" stroke="#34639a" stroke-width="0.95"/>
<circle cx="433.40" cy="304.80" r="1.8" fill="none" stroke="#34639a" stroke-width="0.95"/>
<circle cx="433.40" cy="308.00" r="1.8" fill="none" stroke="#34639a" stroke-width="0.95"/>
<circle cx="433.40" cy="311.20" r="1.8" fill="none" stroke="#34639a" stroke-width="0.95"/>
<circle cx="425.60" cy="314.30" r="1.8" fill="none" stroke="#34639a" stroke-width="0.95"/>
<circle cx="430.70" cy="314.30" r="1.8" fill="none" stroke="#34639a" stroke-width="0.95"/>
<circle cx="436.00" cy="314.30" r="1.8" fill="none" stroke="#34639a" stroke-width="0.95"/>
<circle cx="441.10" cy="314.30" r="1.8" fill="none" stroke="#34639a" stroke-width="0.95"/>
<circle cx="436.00" cy="318.50" r="1.8" fill="none" stroke="#34639a" stroke-width="0.95"/>
<circle cx="433.40" cy="322.30" r="1.8" fill="none" stroke="#34639a" stroke-width="0.95"/>
<circle cx="433.40" cy="330.20" r="1.8" fill="none" stroke="#34639a" stroke-width="0.95"/>
<circle cx="433.40" cy="338.00" r="1.8" fill="none" stroke="#34639a" stroke-width="0.95"/>
<circle cx="430.80" cy="343.00" r="1.8" fill="none" stroke="#34639a" stroke-width="0.95"/>
<circle cx="435.90" cy="345.50" r="1.8" fill="none" stroke="#34639a" stroke-width="0.95"/>
<circle cx="430.80" cy="348.40" r="1.8" fill="none" stroke="#34639a" stroke-width="0.95"/>
<circle cx="441.10" cy="348.70" r="1.8" fill="none" stroke="#34639a" stroke-width="0.95"/>
<circle cx="430.80" cy="351.80" r="1.8" fill="none" stroke="#34639a" stroke-width="0.95"/>
<circle cx="435.90" cy="352.00" r="1.8" fill="none" stroke="#34639a" stroke-width="0.95"/>
<circle cx="425.90" cy="358.70" r="1.8" fill="none" stroke="#34639a" stroke-width="0.95"/>
<circle cx="430.80" cy="358.70" r="1.8" fill="none" stroke="#34639a" stroke-width="0.95"/>
<circle cx="435.90" cy="358.70" r="1.8" fill="none" stroke="#34639a" stroke-width="0.95"/>
<circle cx="441.10" cy="358.70" r="1.8" fill="none" stroke="#34639a" stroke-width="0.95"/>
<circle cx="435.90" cy="362.30" r="1.8" fill="none" stroke="#34639a" stroke-width="0.95"/>
<circle cx="430.80" cy="363.00" r="1.8" fill="none" stroke="#34639a" stroke-width="0.95"/>
<circle cx="425.90" cy="365.70" r="1.8" fill="none" stroke="#34639a" stroke-width="0.95"/>
<circle cx="435.90" cy="365.70" r="1.8" fill="none" stroke="#34639a" stroke-width="0.95"/>
<circle cx="430.80" cy="366.50" r="1.8" fill="none" stroke="#34639a" stroke-width="0.95"/>
<circle cx="425.90" cy="369.30" r="1.8" fill="none" stroke="#34639a" stroke-width="0.95"/>
<circle cx="435.90" cy="369.30" r="1.8" fill="none" stroke="#34639a" stroke-width="0.95"/>
<circle cx="430.80" cy="370.00" r="1.8" fill="none" stroke="#34639a" stroke-width="0.95"/>
<circle cx="435.90" cy="372.80" r="1.8" fill="none" stroke="#34639a" stroke-width="0.95"/>
<circle cx="430.80" cy="373.50" r="1.8" fill="none" stroke="#34639a" stroke-width="0.95"/>
<circle cx="435.90" cy="376.00" r="1.8" fill="none" stroke="#34639a" stroke-width="0.95"/>
<circle cx="425.90" cy="380.00" r="1.8" fill="none" stroke="#34639a" stroke-width="0.95"/>
<circle cx="430.80" cy="380.00" r="1.8" fill="none" stroke="#34639a" stroke-width="0.95"/>
<circle cx="441.10" cy="380.00" r="1.8" fill="none" stroke="#34639a" stroke-width="0.95"/>
<circle cx="435.90" cy="382.80" r="1.8" fill="none" stroke="#34639a" stroke-width="0.95"/>
<circle cx="430.80" cy="383.50" r="1.8" fill="none" stroke="#34639a" stroke-width="0.95"/>
<circle cx="425.90" cy="386.00" r="1.8" fill="none" stroke="#34639a" stroke-width="0.95"/>
<circle cx="430.80" cy="388.30" r="1.8" fill="none" stroke="#34639a" stroke-width="0.95"/>
<circle cx="435.90" cy="388.30" r="1.8" fill="none" stroke="#34639a" stroke-width="0.95"/>
<circle cx="441.10" cy="388.30" r="1.8" fill="none" stroke="#34639a" stroke-width="0.95"/>
<circle cx="433.40" cy="394.20" r="1.8" fill="none" stroke="#34639a" stroke-width="0.95"/>
<circle cx="119.00" cy="44.00" r="1.7" fill="#b40f2b"/>
<circle cx="119.00" cy="59.00" r="1.7" fill="#b40f2b"/>
<circle cx="119.00" cy="68.50" r="1.7" fill="#b40f2b"/>
<circle cx="116.50" cy="96.40" r="1.7" fill="#b40f2b"/>
<circle cx="121.00" cy="94.30" r="1.7" fill="#b40f2b"/>
<circle cx="116.50" cy="113.50" r="1.7" fill="#b40f2b"/>
<circle cx="116.50" cy="116.50" r="1.7" fill="#b40f2b"/>
<circle cx="121.00" cy="115.50" r="1.7" fill="#b40f2b"/>
<circle cx="121.00" cy="131.70" r="1.7" fill="#b40f2b"/>
<circle cx="116.50" cy="134.00" r="1.7" fill="#b40f2b"/>
<circle cx="116.50" cy="137.00" r="1.7" fill="#b40f2b"/>
<circle cx="121.00" cy="138.40" r="1.7" fill="#b40f2b"/>
<circle cx="121.00" cy="142.00" r="1.7" fill="#b40f2b"/>
<circle cx="116.80" cy="145.00" r="1.7" fill="#b40f2b"/>
<circle cx="121.50" cy="146.00" r="1.7" fill="#b40f2b"/>
<circle cx="125.50" cy="144.80" r="1.7" fill="#b40f2b"/>
<circle cx="121.00" cy="151.00" r="1.7" fill="#b40f2b"/>
<circle cx="117.50" cy="154.00" r="1.7" fill="#b40f2b"/>
<circle cx="121.50" cy="154.50" r="1.7" fill="#b40f2b"/>
<circle cx="121.50" cy="157.50" r="1.7" fill="#b40f2b"/>
<circle cx="108.50" cy="158.50" r="1.7" fill="#b40f2b"/>
<circle cx="117.50" cy="158.50" r="1.7" fill="#b40f2b"/>
<circle cx="108.50" cy="161.50" r="1.7" fill="#b40f2b"/>
<circle cx="112.80" cy="161.50" r="1.7" fill="#b40f2b"/>
<circle cx="117.50" cy="161.50" r="1.7" fill="#b40f2b"/>
<circle cx="121.50" cy="161.50" r="1.7" fill="#b40f2b"/>
<circle cx="125.50" cy="161.50" r="1.7" fill="#b40f2b"/>
<circle cx="129.50" cy="161.50" r="1.7" fill="#b40f2b"/>
<circle cx="112.80" cy="165.00" r="1.7" fill="#b40f2b"/>
<circle cx="117.50" cy="165.00" r="1.7" fill="#b40f2b"/>
<circle cx="121.50" cy="165.00" r="1.7" fill="#b40f2b"/>
<circle cx="125.50" cy="165.00" r="1.7" fill="#b40f2b"/>
<circle cx="129.50" cy="165.00" r="1.7" fill="#b40f2b"/>
<circle cx="103.50" cy="168.30" r="1.7" fill="#b40f2b"/>
<circle cx="108.50" cy="168.30" r="1.7" fill="#b40f2b"/>
<circle cx="112.80" cy="168.30" r="1.7" fill="#b40f2b"/>
<circle cx="117.50" cy="168.30" r="1.7" fill="#b40f2b"/>
<circle cx="125.50" cy="168.30" r="1.7" fill="#b40f2b"/>
<circle cx="129.50" cy="168.30" r="1.7" fill="#b40f2b"/>
<circle cx="133.50" cy="168.30" r="1.7" fill="#b40f2b"/>
<circle cx="103.50" cy="171.50" r="1.7" fill="#b40f2b"/>
<circle cx="108.50" cy="171.50" r="1.7" fill="#b40f2b"/>
<circle cx="112.80" cy="171.50" r="1.7" fill="#b40f2b"/>
<circle cx="117.50" cy="171.50" r="1.7" fill="#b40f2b"/>
<circle cx="121.50" cy="171.50" r="1.7" fill="#b40f2b"/>
<circle cx="125.50" cy="171.50" r="1.7" fill="#b40f2b"/>
<circle cx="129.50" cy="171.50" r="1.7" fill="#b40f2b"/>
<circle cx="133.50" cy="171.50" r="1.7" fill="#b40f2b"/>
<circle cx="103.50" cy="175.00" r="1.7" fill="#b40f2b"/>
<circle cx="112.80" cy="175.00" r="1.7" fill="#b40f2b"/>
<circle cx="117.50" cy="175.00" r="1.7" fill="#b40f2b"/>
<circle cx="121.50" cy="175.00" r="1.7" fill="#b40f2b"/>
<circle cx="125.50" cy="175.00" r="1.7" fill="#b40f2b"/>
<circle cx="129.50" cy="175.00" r="1.7" fill="#b40f2b"/>
<circle cx="112.80" cy="177.80" r="1.7" fill="#b40f2b"/>
<circle cx="121.50" cy="177.80" r="1.7" fill="#b40f2b"/>
<circle cx="125.50" cy="177.80" r="1.7" fill="#b40f2b"/>
<circle cx="112.80" cy="180.50" r="1.7" fill="#b40f2b"/>
<circle cx="294.50" cy="36.20" r="1.7" fill="#b40f2b"/>
<circle cx="294.50" cy="58.70" r="1.7" fill="#b40f2b"/>
<circle cx="291.00" cy="62.80" r="1.7" fill="#b40f2b"/>
<circle cx="294.50" cy="65.00" r="1.7" fill="#b40f2b"/>
<circle cx="294.50" cy="72.50" r="1.7" fill="#b40f2b"/>
<circle cx="294.50" cy="79.00" r="1.7" fill="#b40f2b"/>
<circle cx="294.50" cy="82.60" r="1.7" fill="#b40f2b"/>
<circle cx="291.00" cy="86.00" r="1.7" fill="#b40f2b"/>
<circle cx="294.50" cy="86.50" r="1.7" fill="#b40f2b"/>
<circle cx="298.50" cy="87.60" r="1.7" fill="#b40f2b"/>
<circle cx="294.50" cy="91.50" r="1.7" fill="#b40f2b"/>
<circle cx="291.00" cy="103.80" r="1.7" fill="#b40f2b"/>
<circle cx="298.00" cy="102.00" r="1.7" fill="#b40f2b"/>
<circle cx="294.50" cy="105.50" r="1.7" fill="#b40f2b"/>
<circle cx="298.00" cy="108.50" r="1.7" fill="#b40f2b"/>
<circle cx="283.40" cy="111.20" r="1.7" fill="#b40f2b"/>
<circle cx="290.80" cy="111.20" r="1.7" fill="#b40f2b"/>
<circle cx="294.30" cy="111.20" r="1.7" fill="#b40f2b"/>
<circle cx="305.60" cy="111.20" r="1.7" fill="#b40f2b"/>
<circle cx="286.80" cy="113.60" r="1.7" fill="#b40f2b"/>
<circle cx="298.20" cy="113.60" r="1.7" fill="#b40f2b"/>
<circle cx="302.20" cy="113.60" r="1.7" fill="#b40f2b"/>
<circle cx="286.80" cy="116.50" r="1.7" fill="#b40f2b"/>
<circle cx="290.80" cy="116.50" r="1.7" fill="#b40f2b"/>
<circle cx="298.20" cy="116.50" r="1.7" fill="#b40f2b"/>
<circle cx="286.80" cy="119.50" r="1.7" fill="#b40f2b"/>
<circle cx="290.80" cy="119.50" r="1.7" fill="#b40f2b"/>
<circle cx="294.30" cy="119.50" r="1.7" fill="#b40f2b"/>
<circle cx="298.20" cy="119.50" r="1.7" fill="#b40f2b"/>
<circle cx="302.20" cy="119.50" r="1.7" fill="#b40f2b"/>
<circle cx="286.80" cy="122.50" r="1.7" fill="#b40f2b"/>
<circle cx="290.80" cy="122.50" r="1.7" fill="#b40f2b"/>
<circle cx="298.20" cy="122.50" r="1.7" fill="#b40f2b"/>
<circle cx="302.20" cy="122.50" r="1.7" fill="#b40f2b"/>
<circle cx="286.80" cy="125.50" r="1.7" fill="#b40f2b"/>
<circle cx="290.80" cy="125.50" r="1.7" fill="#b40f2b"/>
<circle cx="294.30" cy="125.50" r="1.7" fill="#b40f2b"/>
<circle cx="298.20" cy="125.50" r="1.7" fill="#b40f2b"/>
<circle cx="302.20" cy="125.50" r="1.7" fill="#b40f2b"/>
<circle cx="283.40" cy="128.20" r="1.7" fill="#b40f2b"/>
<circle cx="290.80" cy="128.20" r="1.7" fill="#b40f2b"/>
<circle cx="298.20" cy="128.20" r="1.7" fill="#b40f2b"/>
<circle cx="279.90" cy="131.50" r="1.7" fill="#b40f2b"/>
<circle cx="283.40" cy="131.50" r="1.7" fill="#b40f2b"/>
<circle cx="286.80" cy="131.50" r="1.7" fill="#b40f2b"/>
<circle cx="290.80" cy="131.50" r="1.7" fill="#b40f2b"/>
<circle cx="298.20" cy="131.50" r="1.7" fill="#b40f2b"/>
<circle cx="302.20" cy="131.50" r="1.7" fill="#b40f2b"/>
<circle cx="305.60" cy="131.50" r="1.7" fill="#b40f2b"/>
<circle cx="309.10" cy="131.50" r="1.7" fill="#b40f2b"/>
<circle cx="286.80" cy="134.60" r="1.7" fill="#b40f2b"/>
<circle cx="290.80" cy="134.60" r="1.7" fill="#b40f2b"/>
<circle cx="298.20" cy="134.60" r="1.7" fill="#b40f2b"/>
<circle cx="302.20" cy="134.60" r="1.7" fill="#b40f2b"/>
<circle cx="283.40" cy="137.80" r="1.7" fill="#b40f2b"/>
<circle cx="287.00" cy="137.80" r="1.7" fill="#b40f2b"/>
<circle cx="302.20" cy="137.80" r="1.7" fill="#b40f2b"/>
<circle cx="305.60" cy="137.80" r="1.7" fill="#b40f2b"/>
<circle cx="283.40" cy="140.90" r="1.7" fill="#b40f2b"/>
<circle cx="294.30" cy="140.90" r="1.7" fill="#b40f2b"/>
<circle cx="301.50" cy="140.90" r="1.7" fill="#b40f2b"/>
<circle cx="305.60" cy="140.90" r="1.7" fill="#b40f2b"/>
<circle cx="287.00" cy="145.00" r="1.7" fill="#b40f2b"/>
<circle cx="291.00" cy="145.00" r="1.7" fill="#b40f2b"/>
<circle cx="298.30" cy="145.00" r="1.7" fill="#b40f2b"/>
<circle cx="302.00" cy="145.00" r="1.7" fill="#b40f2b"/>
<circle cx="294.50" cy="147.60" r="1.7" fill="#b40f2b"/>
<circle cx="292.70" cy="153.50" r="1.7" fill="#b40f2b"/>
<circle cx="296.30" cy="152.40" r="1.7" fill="#b40f2b"/>
<circle cx="294.50" cy="157.00" r="1.7" fill="#b40f2b"/>
<circle cx="290.80" cy="159.30" r="1.7" fill="#b40f2b"/>
<circle cx="298.30" cy="159.30" r="1.7" fill="#b40f2b"/>
<circle cx="118.60" cy="330.40" r="1.65" fill="#b40f2b"/>
<circle cx="116.80" cy="333.50" r="1.65" fill="#b40f2b"/>
<circle cx="120.50" cy="334.00" r="1.65" fill="#b40f2b"/>
<circle cx="114.80" cy="341.60" r="1.65" fill="#b40f2b"/>
<circle cx="118.60" cy="342.50" r="1.65" fill="#b40f2b"/>
<circle cx="118.60" cy="345.50" r="1.65" fill="#b40f2b"/>
<circle cx="114.80" cy="345.90" r="1.65" fill="#b40f2b"/>
<circle cx="122.40" cy="345.90" r="1.65" fill="#b40f2b"/>
<circle cx="125.90" cy="345.90" r="1.65" fill="#b40f2b"/>
<circle cx="118.60" cy="348.30" r="1.65" fill="#b40f2b"/>
<circle cx="111.20" cy="349.70" r="1.65" fill="#b40f2b"/>
<circle cx="122.40" cy="349.70" r="1.65" fill="#b40f2b"/>
<circle cx="125.90" cy="349.70" r="1.65" fill="#b40f2b"/>
<circle cx="118.60" cy="351.60" r="1.65" fill="#b40f2b"/>
<circle cx="129.70" cy="351.50" r="1.65" fill="#b40f2b"/>
<circle cx="107.50" cy="353.00" r="1.65" fill="#b40f2b"/>
<circle cx="111.20" cy="353.00" r="1.65" fill="#b40f2b"/>
<circle cx="125.90" cy="353.30" r="1.65" fill="#b40f2b"/>
<circle cx="129.70" cy="354.50" r="1.65" fill="#b40f2b"/>
<circle cx="111.20" cy="355.80" r="1.65" fill="#b40f2b"/>
<circle cx="114.80" cy="355.30" r="1.65" fill="#b40f2b"/>
<circle cx="122.40" cy="355.30" r="1.65" fill="#b40f2b"/>
<circle cx="103.90" cy="358.30" r="1.65" fill="#b40f2b"/>
<circle cx="107.50" cy="358.30" r="1.65" fill="#b40f2b"/>
<circle cx="111.20" cy="358.30" r="1.65" fill="#b40f2b"/>
<circle cx="114.80" cy="358.30" r="1.65" fill="#b40f2b"/>
<circle cx="118.60" cy="358.30" r="1.65" fill="#b40f2b"/>
<circle cx="125.90" cy="358.30" r="1.65" fill="#b40f2b"/>
<circle cx="129.70" cy="358.30" r="1.65" fill="#b40f2b"/>
<circle cx="133.20" cy="358.30" r="1.65" fill="#b40f2b"/>
<circle cx="122.40" cy="360.50" r="1.65" fill="#b40f2b"/>
<circle cx="114.80" cy="362.30" r="1.65" fill="#b40f2b"/>
<circle cx="122.40" cy="362.30" r="1.65" fill="#b40f2b"/>
<circle cx="103.90" cy="364.60" r="1.65" fill="#b40f2b"/>
<circle cx="107.50" cy="364.60" r="1.65" fill="#b40f2b"/>
<circle cx="111.20" cy="364.60" r="1.65" fill="#b40f2b"/>
<circle cx="114.80" cy="364.60" r="1.65" fill="#b40f2b"/>
<circle cx="118.60" cy="364.60" r="1.65" fill="#b40f2b"/>
<circle cx="129.70" cy="364.60" r="1.65" fill="#b40f2b"/>
<circle cx="133.20" cy="364.60" r="1.65" fill="#b40f2b"/>
<circle cx="115.00" cy="366.70" r="1.65" fill="#b40f2b"/>
<circle cx="122.30" cy="366.70" r="1.65" fill="#b40f2b"/>
<circle cx="125.90" cy="366.70" r="1.65" fill="#b40f2b"/>
<circle cx="111.20" cy="368.40" r="1.65" fill="#b40f2b"/>
<circle cx="122.30" cy="369.40" r="1.65" fill="#b40f2b"/>
<circle cx="111.20" cy="371.40" r="1.65" fill="#b40f2b"/>
<circle cx="118.60" cy="371.40" r="1.65" fill="#b40f2b"/>
<circle cx="125.90" cy="371.40" r="1.65" fill="#b40f2b"/>
<circle cx="129.50" cy="371.40" r="1.65" fill="#b40f2b"/>
<circle cx="107.30" cy="373.50" r="1.65" fill="#b40f2b"/>
<circle cx="115.00" cy="373.50" r="1.65" fill="#b40f2b"/>
<circle cx="111.20" cy="375.40" r="1.65" fill="#b40f2b"/>
<circle cx="122.30" cy="375.40" r="1.65" fill="#b40f2b"/>
<circle cx="129.50" cy="375.40" r="1.65" fill="#b40f2b"/>
<circle cx="125.90" cy="377.60" r="1.65" fill="#b40f2b"/>
<circle cx="111.20" cy="381.60" r="1.65" fill="#b40f2b"/>
<circle cx="118.60" cy="381.60" r="1.65" fill="#b40f2b"/>
<circle cx="115.00" cy="383.70" r="1.65" fill="#b40f2b"/>
<circle cx="122.30" cy="383.70" r="1.65" fill="#b40f2b"/>
<circle cx="107.30" cy="385.30" r="1.65" fill="#b40f2b"/>
<circle cx="129.50" cy="385.30" r="1.65" fill="#b40f2b"/>
<circle cx="111.20" cy="387.00" r="1.65" fill="#b40f2b"/>
<circle cx="118.60" cy="387.00" r="1.65" fill="#b40f2b"/>
<circle cx="125.90" cy="387.00" r="1.65" fill="#b40f2b"/>
<circle cx="122.30" cy="388.80" r="1.65" fill="#b40f2b"/>
<circle cx="115.00" cy="390.80" r="1.65" fill="#b40f2b"/>
<circle cx="118.60" cy="390.80" r="1.65" fill="#b40f2b"/>
<circle cx="122.30" cy="392.60" r="1.65" fill="#b40f2b"/>
<circle cx="118.60" cy="394.30" r="1.65" fill="#b40f2b"/>
<circle cx="115.00" cy="395.80" r="1.65" fill="#b40f2b"/>
<circle cx="294.30" cy="324.80" r="1.65" fill="#b40f2b"/>
<circle cx="294.30" cy="343.00" r="1.65" fill="#b40f2b"/>
<circle cx="292.50" cy="349.00" r="1.65" fill="#b40f2b"/>
<circle cx="296.00" cy="351.20" r="1.65" fill="#b40f2b"/>
<circle cx="294.30" cy="362.00" r="1.65" fill="#b40f2b"/>
<circle cx="294.30" cy="365.70" r="1.65" fill="#b40f2b"/>
<circle cx="294.30" cy="369.40" r="1.65" fill="#b40f2b"/>
<circle cx="289.10" cy="380.10" r="1.65" fill="#b40f2b"/>
<circle cx="292.60" cy="377.20" r="1.65" fill="#b40f2b"/>
<circle cx="295.50" cy="377.00" r="1.65" fill="#b40f2b"/>
<circle cx="292.50" cy="382.40" r="1.65" fill="#b40f2b"/>
<circle cx="296.00" cy="380.30" r="1.65" fill="#b40f2b"/>
<circle cx="292.70" cy="388.90" r="1.65" fill="#b40f2b"/>
<circle cx="296.00" cy="390.80" r="1.65" fill="#b40f2b"/>
<circle cx="289.10" cy="394.00" r="1.65" fill="#b40f2b"/>
<circle cx="292.50" cy="396.30" r="1.65" fill="#b40f2b"/>
<circle cx="299.20" cy="393.60" r="1.65" fill="#b40f2b"/>
<circle cx="299.20" cy="400.00" r="1.65" fill="#b40f2b"/>
<circle cx="289.10" cy="402.60" r="1.65" fill="#b40f2b"/>
<circle cx="282.50" cy="405.30" r="1.65" fill="#b40f2b"/>
<circle cx="286.00" cy="405.30" r="1.65" fill="#b40f2b"/>
<circle cx="289.50" cy="405.30" r="1.65" fill="#b40f2b"/>
<circle cx="293.00" cy="405.30" r="1.65" fill="#b40f2b"/>
<circle cx="299.00" cy="405.30" r="1.65" fill="#b40f2b"/>
<circle cx="302.50" cy="405.30" r="1.65" fill="#b40f2b"/>
<circle cx="306.00" cy="405.30" r="1.65" fill="#b40f2b"/>
<circle cx="289.50" cy="409.70" r="1.65" fill="#b40f2b"/>
<circle cx="295.50" cy="409.70" r="1.65" fill="#b40f2b"/>
<circle cx="279.50" cy="412.50" r="1.65" fill="#b40f2b"/>
<circle cx="282.50" cy="412.50" r="1.65" fill="#b40f2b"/>
<circle cx="289.50" cy="412.50" r="1.65" fill="#b40f2b"/>
<circle cx="293.00" cy="412.50" r="1.65" fill="#b40f2b"/>
<circle cx="299.00" cy="412.50" r="1.65" fill="#b40f2b"/>
<circle cx="302.50" cy="412.50" r="1.65" fill="#b40f2b"/>
<circle cx="306.00" cy="412.50" r="1.65" fill="#b40f2b"/>
<circle cx="279.50" cy="415.00" r="1.65" fill="#b40f2b"/>
<circle cx="286.00" cy="415.00" r="1.65" fill="#b40f2b"/>
<circle cx="289.50" cy="415.00" r="1.65" fill="#b40f2b"/>
<circle cx="296.00" cy="415.00" r="1.65" fill="#b40f2b"/>
<circle cx="302.50" cy="415.00" r="1.65" fill="#b40f2b"/>
<circle cx="289.50" cy="417.20" r="1.65" fill="#b40f2b"/>
<circle cx="293.00" cy="417.20" r="1.65" fill="#b40f2b"/>
<circle cx="299.00" cy="417.20" r="1.65" fill="#b40f2b"/>
<circle cx="306.00" cy="417.20" r="1.65" fill="#b40f2b"/>
<circle cx="309.00" cy="417.20" r="1.65" fill="#b40f2b"/>
<circle cx="294.30" cy="421.00" r="1.65" fill="#b40f2b"/>
<circle cx="286.00" cy="424.00" r="1.65" fill="#b40f2b"/>
<circle cx="293.00" cy="424.20" r="1.65" fill="#b40f2b"/>
<circle cx="289.50" cy="426.70" r="1.65" fill="#b40f2b"/>
<circle cx="296.00" cy="426.50" r="1.65" fill="#b40f2b"/>
<circle cx="299.00" cy="425.00" r="1.65" fill="#b40f2b"/>
<circle cx="292.50" cy="430.20" r="1.65" fill="#b40f2b"/>
<circle cx="295.50" cy="429.30" r="1.65" fill="#b40f2b"/>
<circle cx="481.00" cy="282.40" r="1.65" fill="#b40f2b"/>
<circle cx="478.10" cy="310.20" r="1.65" fill="#b40f2b"/>
<circle cx="483.50" cy="310.00" r="1.65" fill="#b40f2b"/>
<circle cx="480.80" cy="313.40" r="1.65" fill="#b40f2b"/>
<circle cx="480.80" cy="316.50" r="1.65" fill="#b40f2b"/>
<circle cx="478.10" cy="319.40" r="1.65" fill="#b40f2b"/>
<circle cx="483.50" cy="320.80" r="1.65" fill="#b40f2b"/>
<circle cx="475.70" cy="349.00" r="1.65" fill="#b40f2b"/>
<circle cx="475.70" cy="352.00" r="1.65" fill="#b40f2b"/>
<circle cx="480.70" cy="351.50" r="1.65" fill="#b40f2b"/>
<circle cx="485.50" cy="351.50" r="1.65" fill="#b40f2b"/>
<circle cx="470.60" cy="356.00" r="1.65" fill="#b40f2b"/>
<circle cx="485.50" cy="356.00" r="1.65" fill="#b40f2b"/>
<circle cx="491.10" cy="356.00" r="1.65" fill="#b40f2b"/>
<circle cx="480.70" cy="355.50" r="1.65" fill="#b40f2b"/>
<circle cx="480.70" cy="362.80" r="1.65" fill="#b40f2b"/>
<circle cx="475.70" cy="364.80" r="1.65" fill="#b40f2b"/>
<circle cx="491.10" cy="365.70" r="1.65" fill="#b40f2b"/>
<circle cx="480.70" cy="367.30" r="1.65" fill="#b40f2b"/>
<circle cx="475.70" cy="368.50" r="1.65" fill="#b40f2b"/>
<circle cx="485.50" cy="368.50" r="1.65" fill="#b40f2b"/>
<circle cx="470.60" cy="374.00" r="1.65" fill="#b40f2b"/>
<circle cx="475.70" cy="374.00" r="1.65" fill="#b40f2b"/>
<circle cx="480.70" cy="374.00" r="1.65" fill="#b40f2b"/>
<circle cx="485.50" cy="374.00" r="1.65" fill="#b40f2b"/>
<circle cx="470.60" cy="377.00" r="1.65" fill="#b40f2b"/>
<circle cx="475.70" cy="377.00" r="1.65" fill="#b40f2b"/>
<circle cx="480.70" cy="377.00" r="1.65" fill="#b40f2b"/>
<circle cx="485.50" cy="377.00" r="1.65" fill="#b40f2b"/>
<circle cx="491.10" cy="377.00" r="1.65" fill="#b40f2b"/>
<circle cx="470.60" cy="380.00" r="1.65" fill="#b40f2b"/>
<circle cx="475.70" cy="380.00" r="1.65" fill="#b40f2b"/>
<circle cx="480.70" cy="380.00" r="1.65" fill="#b40f2b"/>
<circle cx="485.50" cy="380.00" r="1.65" fill="#b40f2b"/>
<circle cx="491.10" cy="380.00" r="1.65" fill="#b40f2b"/>
<circle cx="480.70" cy="382.70" r="1.65" fill="#b40f2b"/>
<circle cx="475.60" cy="386.00" r="1.65" fill="#b40f2b"/>
<circle cx="475.60" cy="389.50" r="1.65" fill="#b40f2b"/>
<circle cx="480.70" cy="385.50" r="1.65" fill="#b40f2b"/>
<circle cx="480.70" cy="388.70" r="1.65" fill="#b40f2b"/>
<circle cx="486.00" cy="387.20" r="1.65" fill="#b40f2b"/>
<circle cx="486.00" cy="391.70" r="1.65" fill="#b40f2b"/>
<circle cx="480.70" cy="393.50" r="1.65" fill="#b40f2b"/>
<circle cx="480.70" cy="396.70" r="1.65" fill="#b40f2b"/>
<circle cx="475.60" cy="397.00" r="1.65" fill="#b40f2b"/>
<circle cx="486.00" cy="397.50" r="1.65" fill="#b40f2b"/>
<circle cx="480.70" cy="402.00" r="1.65" fill="#b40f2b"/>
<circle cx="480.70" cy="409.20" r="1.65" fill="#b40f2b"/>
<line x1="399.20" y1="162.00" x2="502.50" y2="71.50" stroke="#111" stroke-width="1.1" />
<circle cx="502.10" cy="42.10" r="2.3" fill="#c0102c"/>
<circle cx="483.60" cy="50.80" r="2.3" fill="#c0102c"/>
<circle cx="460.80" cy="62.10" r="2.3" fill="#c0102c"/>
<circle cx="466.60" cy="62.10" r="2.3" fill="#c0102c"/>
<circle cx="464.70" cy="69.80" r="2.3" fill="#c0102c"/>
<circle cx="461.00" cy="73.90" r="2.3" fill="#c0102c"/>
<circle cx="440.00" cy="76.70" r="2.3" fill="#c0102c"/>
<circle cx="446.90" cy="75.80" r="2.3" fill="#c0102c"/>
<circle cx="470.50" cy="76.00" r="2.3" fill="#c0102c"/>
<circle cx="473.50" cy="75.80" r="2.3" fill="#c0102c"/>
<circle cx="486.00" cy="73.00" r="2.3" fill="#c0102c"/>
<circle cx="474.00" cy="81.00" r="2.3" fill="#c0102c"/>
<circle cx="448.00" cy="84.40" r="2.3" fill="#c0102c"/>
<circle cx="456.00" cy="84.00" r="2.3" fill="#c0102c"/>
<circle cx="450.50" cy="89.00" r="2.3" fill="#c0102c"/>
<circle cx="456.00" cy="89.30" r="2.3" fill="#c0102c"/>
<circle cx="464.00" cy="87.90" r="2.3" fill="#c0102c"/>
<circle cx="492.50" cy="86.30" r="2.3" fill="#c0102c"/>
<circle cx="478.00" cy="89.50" r="2.3" fill="#c0102c"/>
<circle cx="481.00" cy="88.00" r="2.3" fill="#c0102c"/>
<circle cx="484.00" cy="88.50" r="2.3" fill="#c0102c"/>
<circle cx="440.10" cy="101.90" r="2.3" fill="#c0102c"/>
<circle cx="449.20" cy="105.30" r="2.3" fill="#c0102c"/>
<circle cx="458.70" cy="98.40" r="2.3" fill="#c0102c"/>
<circle cx="461.30" cy="101.50" r="2.3" fill="#c0102c"/>
<circle cx="463.80" cy="104.00" r="2.3" fill="#c0102c"/>
<circle cx="473.20" cy="97.10" r="2.3" fill="#c0102c"/>
<circle cx="481.50" cy="105.00" r="2.3" fill="#c0102c"/>
<circle cx="486.00" cy="104.50" r="2.3" fill="#c0102c"/>
<circle cx="490.00" cy="104.00" r="2.3" fill="#c0102c"/>
<circle cx="493.50" cy="103.00" r="2.3" fill="#c0102c"/>
<circle cx="500.00" cy="116.20" r="2.3" fill="#c0102c"/>
<circle cx="424.30" cy="112.20" r="2.3" fill="#c0102c"/>
<circle cx="426.80" cy="111.40" r="2.3" fill="#c0102c"/>
<circle cx="432.00" cy="112.20" r="2.3" fill="#c0102c"/>
<circle cx="440.00" cy="111.40" r="2.3" fill="#c0102c"/>
<circle cx="444.90" cy="110.50" r="2.3" fill="#c0102c"/>
<circle cx="449.20" cy="111.40" r="2.3" fill="#c0102c"/>
<circle cx="452.70" cy="112.20" r="2.3" fill="#c0102c"/>
<circle cx="458.30" cy="112.20" r="2.3" fill="#c0102c"/>
<circle cx="457.80" cy="108.80" r="2.3" fill="#c0102c"/>
<circle cx="467.30" cy="112.20" r="2.3" fill="#c0102c"/>
<circle cx="471.60" cy="116.50" r="2.3" fill="#c0102c"/>
<circle cx="466.40" cy="117.40" r="2.3" fill="#c0102c"/>
<circle cx="455.20" cy="118.20" r="2.3" fill="#c0102c"/>
<circle cx="456.10" cy="120.80" r="2.3" fill="#c0102c"/>
<circle cx="460.40" cy="118.20" r="2.3" fill="#c0102c"/>
<circle cx="463.00" cy="113.90" r="2.3" fill="#c0102c"/>
<circle cx="463.80" cy="128.60" r="2.3" fill="#c0102c"/>
<circle cx="469.00" cy="127.70" r="2.3" fill="#c0102c"/>
<circle cx="457.00" cy="135.40" r="2.3" fill="#c0102c"/>
<circle cx="458.70" cy="138.90" r="2.3" fill="#c0102c"/>
<circle cx="459.50" cy="136.50" r="2.3" fill="#c0102c"/>
<circle cx="401.00" cy="144.00" r="2.3" fill="#c0102c"/>
<circle cx="400.20" cy="156.10" r="2.3" fill="#c0102c"/>
<circle cx="455.50" cy="120.00" r="2.3" fill="#c0102c"/>
<circle cx="423.30" cy="115.00" r="2.3" fill="#c0102c"/>
<circle cx="423.50" cy="119.00" r="2.3" fill="#c0102c"/>
<circle cx="422.20" cy="122.00" r="2.3" fill="#c0102c"/>
<circle cx="416.60" cy="123.60" r="2.3" fill="#c0102c"/>
<circle cx="419.50" cy="125.00" r="2.3" fill="#c0102c"/>
<circle cx="419.20" cy="127.90" r="2.3" fill="#c0102c"/>
<circle cx="415.00" cy="132.50" r="2.3" fill="#c0102c"/>
<circle cx="418.40" cy="131.10" r="2.3" fill="#c0102c"/>
<circle cx="428.70" cy="119.60" r="2.3" fill="#c0102c"/>
<circle cx="428.70" cy="126.30" r="2.3" fill="#c0102c"/>
<circle cx="428.70" cy="128.40" r="2.3" fill="#c0102c"/>
<circle cx="429.20" cy="133.80" r="2.3" fill="#c0102c"/>
<circle cx="423.30" cy="138.70" r="2.3" fill="#c0102c"/>
<circle cx="426.50" cy="137.60" r="2.3" fill="#c0102c"/>
<circle cx="432.00" cy="113.30" r="2.3" fill="#c0102c"/>
<circle cx="429.10" cy="119.50" r="2.3" fill="#c0102c"/>
<circle cx="437.70" cy="115.20" r="2.3" fill="#c0102c"/>
<circle cx="442.00" cy="114.10" r="2.3" fill="#c0102c"/>
<circle cx="445.70" cy="115.70" r="2.3" fill="#c0102c"/>
<circle cx="450.60" cy="116.20" r="2.3" fill="#c0102c"/>
<circle cx="440.40" cy="117.80" r="2.3" fill="#c0102c"/>
<circle cx="444.70" cy="118.40" r="2.3" fill="#c0102c"/>
<circle cx="435.50" cy="120.50" r="2.3" fill="#c0102c"/>
<circle cx="438.80" cy="122.70" r="2.3" fill="#c0102c"/>
<circle cx="448.40" cy="122.70" r="2.3" fill="#c0102c"/>
<circle cx="430.70" cy="124.30" r="2.3" fill="#c0102c"/>
<circle cx="435.00" cy="124.80" r="2.3" fill="#c0102c"/>
<circle cx="429.10" cy="127.50" r="2.3" fill="#c0102c"/>
<circle cx="440.40" cy="126.40" r="2.3" fill="#c0102c"/>
<circle cx="443.00" cy="129.70" r="2.3" fill="#c0102c"/>
<circle cx="431.20" cy="132.40" r="2.3" fill="#c0102c"/>
<circle cx="436.00" cy="133.40" r="2.3" fill="#c0102c"/>
<circle cx="440.40" cy="133.40" r="2.3" fill="#c0102c"/>
<circle cx="446.80" cy="135.00" r="2.3" fill="#c0102c"/>
<circle cx="429.10" cy="135.60" r="2.3" fill="#c0102c"/>
<circle cx="441.00" cy="136.70" r="2.3" fill="#c0102c"/>
<circle cx="424.30" cy="139.60" r="2.3" fill="#c0102c"/>
<circle cx="426.90" cy="141.50" r="2.3" fill="#c0102c"/>
<circle cx="422.40" cy="142.80" r="2.3" fill="#c0102c"/>
<circle cx="419.80" cy="144.70" r="2.3" fill="#c0102c"/>
<circle cx="416.50" cy="146.70" r="2.3" fill="#c0102c"/>
<circle cx="411.10" cy="148.60" r="2.3" fill="#c0102c"/>
<circle cx="423.60" cy="146.00" r="2.3" fill="#c0102c"/>
<circle cx="426.20" cy="148.60" r="2.3" fill="#c0102c"/>
<circle cx="414.00" cy="150.50" r="2.3" fill="#c0102c"/>
<circle cx="419.80" cy="149.90" r="2.3" fill="#c0102c"/>
<circle cx="412.70" cy="153.80" r="2.3" fill="#c0102c"/>
<circle cx="417.20" cy="153.10" r="2.3" fill="#c0102c"/>
<circle cx="422.40" cy="152.50" r="2.3" fill="#c0102c"/>
<circle cx="426.20" cy="153.10" r="2.3" fill="#c0102c"/>
<circle cx="412.00" cy="157.60" r="2.3" fill="#c0102c"/>
<circle cx="415.90" cy="156.40" r="2.3" fill="#c0102c"/>
<circle cx="421.70" cy="156.40" r="2.3" fill="#c0102c"/>
<circle cx="424.30" cy="159.00" r="2.3" fill="#c0102c"/>
<circle cx="412.70" cy="160.90" r="2.3" fill="#c0102c"/>
<circle cx="415.30" cy="159.60" r="2.3" fill="#c0102c"/>
<circle cx="401.10" cy="168.40" r="2.3" fill="#c0102c"/>
<circle cx="403.50" cy="164.50" r="2.3" fill="#c0102c"/>
<circle cx="406.40" cy="163.50" r="2.3" fill="#c0102c"/>
<circle cx="409.80" cy="164.50" r="2.3" fill="#c0102c"/>
<circle cx="411.70" cy="165.50" r="2.3" fill="#c0102c"/>
<circle cx="417.00" cy="151.00" r="2.3" fill="#c0102c"/>
<circle cx="421.50" cy="148.50" r="2.3" fill="#c0102c"/>
<circle cx="425.00" cy="144.00" r="2.3" fill="#c0102c"/>
<circle cx="419.00" cy="155.00" r="2.3" fill="#c0102c"/>
<circle cx="413.00" cy="147.00" r="2.3" fill="#c0102c"/>
<circle cx="420.00" cy="161.00" r="2.3" fill="#c0102c"/>
<circle cx="414.50" cy="162.00" r="2.3" fill="#c0102c"/>
<circle cx="426.00" cy="157.00" r="2.3" fill="#c0102c"/>
<circle cx="428.50" cy="152.00" r="2.3" fill="#c0102c"/>
<circle cx="431.00" cy="139.00" r="2.3" fill="#c0102c"/>
<circle cx="427.00" cy="136.00" r="2.3" fill="#c0102c"/>
<circle cx="437.50" cy="128.00" r="2.3" fill="#c0102c"/>
<circle cx="429.90" cy="135.90" r="2.3" fill="#c0102c"/>
<circle cx="433.70" cy="136.60" r="2.3" fill="#c0102c"/>
<circle cx="437.00" cy="134.60" r="2.3" fill="#c0102c"/>
<circle cx="440.80" cy="137.90" r="2.3" fill="#c0102c"/>
<circle cx="446.00" cy="135.90" r="2.3" fill="#c0102c"/>
<circle cx="445.40" cy="141.10" r="2.3" fill="#c0102c"/>
<circle cx="427.30" cy="141.10" r="2.3" fill="#c0102c"/>
<circle cx="432.50" cy="141.10" r="2.3" fill="#c0102c"/>
<circle cx="437.60" cy="141.10" r="2.3" fill="#c0102c"/>
<circle cx="430.50" cy="145.60" r="2.3" fill="#c0102c"/>
<circle cx="434.40" cy="145.00" r="2.3" fill="#c0102c"/>
<circle cx="440.80" cy="145.60" r="2.3" fill="#c0102c"/>
<circle cx="427.30" cy="149.50" r="2.3" fill="#c0102c"/>
<circle cx="431.80" cy="148.80" r="2.3" fill="#c0102c"/>
<circle cx="433.70" cy="151.40" r="2.3" fill="#c0102c"/>
<circle cx="437.00" cy="154.60" r="2.3" fill="#c0102c"/>
<circle cx="438.90" cy="157.20" r="2.3" fill="#c0102c"/>
<rect x="0" y="0" width="520" height="1.1" fill="#555"/><rect x="0" y="0" width="1.1" height="465" fill="#555"/><rect x="518.8" y="0" width="1.2" height="465" fill="#555"/><rect x="0" y="463.8" width="520" height="1.2" fill="#555"/>
</svg>
</body></html>
